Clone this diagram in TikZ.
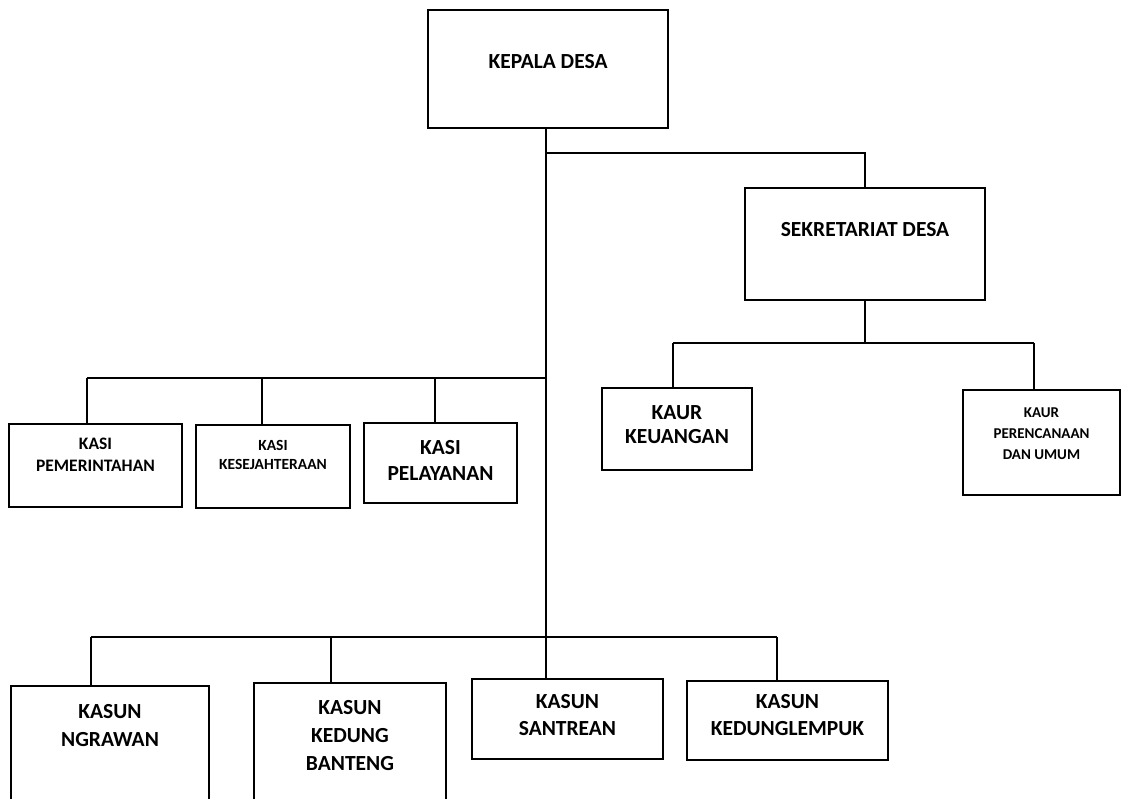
\documentclass[tikz,border=0pt]{standalone}
\usepackage{fontspec}
\setmainfont{Carlito}
\begin{document}
\begin{tikzpicture}[x=1pt,y=-1pt,
  box/.style={draw, line width=2.2pt, inner sep=0pt},
  conn/.style={line width=1.9pt},
  big/.style={font=\bfseries\fontsize{21.5}{27}\selectfont, align=center, inner sep=0pt},
  lbl/.style={align=center, inner sep=0pt}]
\useasboundingbox (0,0) rectangle (1122,798);
\clip (0,0) rectangle (1122,798);
% boxes
\node[box, minimum width=240, minimum height=118] (kd) at (548,69) {};
\node[box, minimum width=240, minimum height=112] (sek) at (865,244) {};
\node[box, minimum width=150, minimum height=82] (ku) at (677,429) {};
\node[box, minimum width=157, minimum height=105] (kp) at (1041.5,442.5) {};
\node[box, minimum width=173, minimum height=83] (ks1) at (95.5,465.5) {};
\node[box, minimum width=154, minimum height=83] (ks2) at (273,466.5) {};
\node[box, minimum width=153, minimum height=80] (ks3) at (440.5,463) {};
\node[box, minimum width=198, minimum height=124] (kn1) at (110,748) {};
\node[box, minimum width=192, minimum height=127] (kn2) at (350,746.5) {};
\node[box, minimum width=191, minimum height=80] (kn3) at (567.5,719) {};
\node[box, minimum width=201, minimum height=79] (kn4) at (787.5,720.5) {};
% texts
\node[big] (kdt) at (548,62) {KEPALA DESA};
\node[big] (sekt) at (865,230) {SEKRETARIAT DESA};
\node[big, font=\bfseries\fontsize{21.5}{24}\selectfont] (kut) at (677,425) {KAUR\\KEUANGAN};
\node[lbl, font=\bfseries\fontsize{15}{21}\selectfont] (kpt) at (1041.5,434) {KAUR\\PERENCANAAN\\DAN UMUM};
\node[lbl, font=\bfseries\fontsize{17.5}{22}\selectfont] (ks1t) at (95.5,455) {KASI\\PEMERINTAHAN};
\node[lbl, font=\bfseries\fontsize{15.5}{19}\selectfont] (ks2t) at (273,454.5) {KASI\\KESEJAHTERAAN};
\node[big, font=\bfseries\fontsize{21.5}{26}\selectfont] (ks3t) at (440.5,460) {KASI\\PELAYANAN};
\node[big, font=\bfseries\fontsize{21.5}{28}\selectfont] (kn1t) at (110,726) {KASUN\\NGRAWAN};
\node[big, font=\bfseries\fontsize{21.5}{28}\selectfont] (kn2t) at (350,736) {KASUN\\KEDUNG\\BANTENG};
\node[big] (kn3t) at (567.5,715.5) {KASUN\\SANTREAN};
\node[big] (kn4t) at (787.5,715.5) {KASUN\\KEDUNGLEMPUK};
% connector coordinates
\coordinate (m1) at (546,153);
\coordinate (m2) at (546,378);
\coordinate (m3) at (546,637);
\coordinate (b2l) at (673,343);
\coordinate (b2r) at (1034,343);
\coordinate (b3l) at (87,378);
\coordinate (b3b) at (262,378);
\coordinate (b3c) at (435,378);
\coordinate (b4l) at (91,637);
\coordinate (b4b) at (331,637);
\coordinate (b4r) at (777,637);
% connectors
\draw[conn] (kd.south -| m1) -- (m3);
\draw[conn] (m1) -| (sek.north);
\draw[conn] (sek.south) -- (sek.south |- b2l);
\draw[conn] (b2l) -- (b2r);
\draw[conn] (b2l) -- (b2l |- ku.north);
\draw[conn] (b2r) -- (b2r |- kp.north);
\draw[conn] (b3l) -- (m2);
\draw[conn] (b3l) -- (b3l |- ks1.north);
\draw[conn] (b3b) -- (b3b |- ks2.north);
\draw[conn] (b3c) -- (b3c |- ks3.north);
\draw[conn] (b4l) -- (b4r);
\draw[conn] (b4l) -- (b4l |- kn1.north);
\draw[conn] (b4b) -- (b4b |- kn2.north);
\draw[conn] (m3) -- (m3 |- kn3.north);
\draw[conn] (b4r) -- (b4r |- kn4.north);
\end{tikzpicture}
\end{document}
